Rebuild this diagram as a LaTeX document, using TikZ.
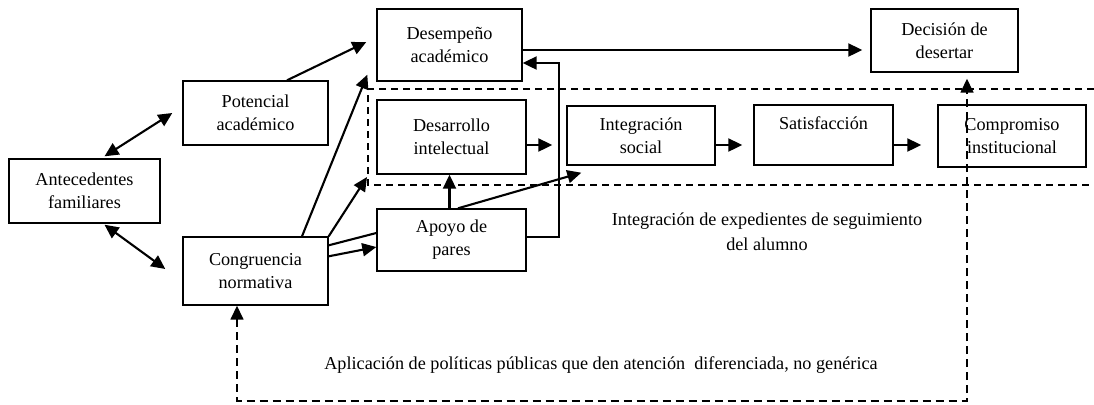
\documentclass[tikz,border=0pt]{standalone}
\usepackage{fontspec}
\setmainfont{Liberation Serif}
\usepackage{tikz}
\usetikzlibrary{positioning,arrows.meta,calc}

\begin{document}
\begin{tikzpicture}[x=0.5pt,y=-0.5pt,
    box/.style={draw,line width=0.7pt,align=center,inner sep=0pt,font=\fontsize{9.1}{11.5}\selectfont},
    arr/.style={-{Triangle[length=7pt,width=6.5pt]},line width=1.05pt},
    dblarr/.style={{Triangle[length=7pt,width=6.5pt]}-{Triangle[length=7pt,width=6.5pt]},line width=1.05pt},
    zone/.style={dash pattern=on 3.5pt off 2.5pt,line width=0.65pt},
    lbl/.style={align=center,font=\fontsize{9.1}{12.5}\selectfont}]
    \useasboundingbox (0,0) rectangle (1094,404);
    % boxes
    \node[box,minimum width=75.5pt,minimum height=32pt] (ante) at (84.5,191) {Antecedentes\\familiares};
    \node[box,minimum width=72.5pt,minimum height=32pt] (pot) at (255.5,113) {Potencial\\acad\'emico};
    \node[box,minimum width=72.5pt,minimum height=34pt] (cong) at (255.5,271) {Congruencia\\normativa};
    \node[box,minimum width=72.5pt,minimum height=36pt] (desem) at (449.5,45) {Desempe\~no\\acad\'emico};
    \node[box,minimum width=74.5pt,minimum height=37pt] (desa) at (451.5,137) {Desarrollo\\intelectual};
    \node[box,minimum width=74.5pt,minimum height=31pt] (apoyo) at (451.5,240) {Apoyo de\\pares};
    \node[box,minimum width=74pt,minimum height=29.5pt] (integ) at (641,135.5) {Integraci\'on\\social};
    \node[box,minimum width=69.5pt,minimum height=30pt] (satis) at (823.5,135) {Satisfacci\'on\\\mbox{}};
    \node[box,minimum width=74pt,minimum height=31pt] (comp) at (1012,136) {Compromiso\\institucional};
    \node[box,minimum width=73.5pt,minimum height=31.5pt] (deci) at (944.5,40.5) {Decisi\'on de\\desertar};
    % dashed zone
    \coordinate (zbl) at (368,185);
    \draw[zone] (1094,89) -| (zbl) -- (1094,185);
    \node[lbl] (expd) at (767,232) {Integraci\'on de expedientes de seguimiento\\del alumno};
    \node[lbl] (polit) at (601,365) {Aplicaci\'on de pol\'iticas p\'ublicas que den atenci\'on\ \ diferenciada, no gen\'erica};
    % connectors
    \draw[dblarr] ([shift={(20,-2)}]ante.north) -- ([shift={(-10,0)}]pot.west);
    \draw[dblarr] ([shift={(20,1)}]ante.south) -- ([shift={(-17,-2)}]cong.west);
    \draw[arr] ([shift={(31.5,0)}]pot.north) -- ([shift={(-10,-3)}]desem.west);
    \draw[arr] ([shift={(46.5,0)}]cong.north) -- ([shift={(-9,-7)}]desem.south west);
    \draw[arr] (cong.north east) -- ([shift={(-1,-8)}]zbl);
    \draw[line width=1.05pt] ([shift={(0,9)}]cong.north east) -- ([shift={(0,-7)}]apoyo.west);
    \draw[arr] ([shift={(0,20)}]cong.north east) -- ([shift={(0,7)}]apoyo.west);
    \draw[arr] ([shift={(-2,0)}]apoyo.north) -- ([shift={(-2,0)}]desa.south);
    \draw[arr] ([shift={(6.5,0)}]apoyo.north) -- ([shift={(15,7)}]integ.south west);
    \draw[arr] ([shift={(0,-3)}]apoyo.east) -- ++(32,0) |- ([shift={(0,18)}]desem.east);
    \draw[arr] ([shift={(0,8)}]desa.east) -- ([shift={(-14,9.5)}]integ.west);
    \draw[arr] ([shift={(0,9.5)}]integ.east) -- ([shift={(-11,10)}]satis.west);
    \draw[arr] ([shift={(0,10)}]satis.east) -- ([shift={(-16,9)}]comp.west);
    \draw[arr] ([shift={(0,5)}]desem.east) -- ([shift={(-8,9.5)}]deci.west);
    % feedback
    \draw[dblarr,dash pattern=on 4pt off 2.5pt,line width=0.8pt] ([shift={(-18.5,0)}]cong.south) -- ++(0,95) -| ([shift={(22.5,6)}]deci.south);
\end{tikzpicture}
\end{document}
